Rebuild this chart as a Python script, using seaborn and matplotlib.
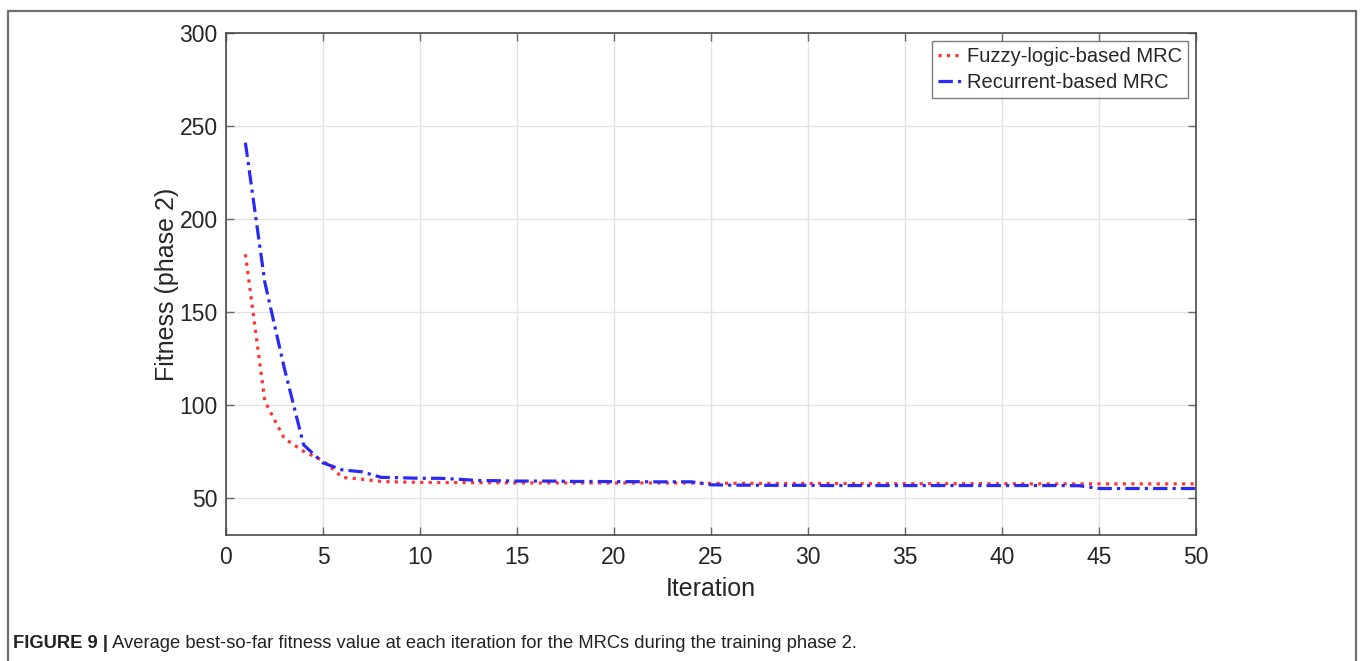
import matplotlib
matplotlib.use("Agg")
import matplotlib.pyplot as plt
import seaborn as sns
import pandas as pd
from matplotlib.lines import Line2D

iterations = list(range(1, 51))
fuzzy = [181, 102, 82, 75, 70, 61, 60, 58.8, 58.5, 58.3,
         58.2, 58.2, 58.1, 58.1, 58.0, 58.0, 58.0, 58.0, 58.0, 58.0,
         58.0, 58.0, 58.0, 58.0, 57.8, 57.8, 57.8, 57.7, 57.7, 57.7,
         57.7, 57.7, 57.6, 57.6, 57.6, 57.6, 57.6, 57.6, 57.6, 57.6,
         57.5, 57.5, 57.5, 57.5, 57.5, 57.5, 57.5, 57.5, 57.5, 57.5]
recurrent = [241, 166, 120, 78.5, 68.8, 65, 64, 61, 60.8, 60.5,
             60.5, 60.0, 59.3, 59.2, 59.0, 59.0, 59.0, 58.8, 58.8, 58.7,
             58.7, 58.6, 58.6, 58.6, 57.0, 56.8, 56.8, 56.7, 56.7, 56.7,
             56.6, 56.6, 56.6, 56.6, 56.6, 56.6, 56.6, 56.6, 56.6, 56.6,
             56.6, 56.6, 56.6, 56.5, 55.0, 55.0, 55.0, 55.0, 55.0, 55.0]
series_names = ["Fuzzy-logic-based MRC", "Recurrent-based MRC"]
x_ticks = [0, 5, 10, 15, 20, 25, 30, 35, 40, 45, 50]
y_ticks = [50, 100, 150, 200, 250, 300]
caption_bold = "FIGURE 9 |"
caption_rest = " Average best-so-far fitness value at each iteration for the MRCs during the training phase 2."

sns.set_theme(style="white")
plt.rcParams['font.family'] = ['Liberation Sans', 'DejaVu Sans']

df_f = pd.DataFrame({"Iteration": iterations, "Fitness": fuzzy})
df_r = pd.DataFrame({"Iteration": iterations, "Fitness": recurrent})

fig = plt.figure(figsize=(13.6, 6.61), dpi=100)
ax = fig.add_axes([226/1360, 1 - 535/661, 970/1360, 502/661])

sns.lineplot(data=df_f, x="Iteration", y="Fitness", ax=ax, color="#ff3535",
             linestyle=":", linewidth=2.3, label=series_names[0])
sns.lineplot(data=df_r, x="Iteration", y="Fitness", ax=ax, color="#2a2af5",
             linewidth=2.3, label=series_names[1], dashes=(4.5, 1.6, 1, 1.6))

ax.set_xlim(0, 50)
ax.set_ylim(30, 300)
ax.set_xticks(x_ticks)
ax.set_yticks(y_ticks)
ax.grid(True, color="#e3e3e3", linewidth=1)
ax.set_axisbelow(True)
for s in ax.spines.values():
    s.set_color("#4a4a4a")
    s.set_linewidth(1.2)
    s.set_visible(True)
ax.tick_params(axis="both", which="both", direction="in", length=6, width=1,
               color="#6a6a6a", labelsize=16.5, labelcolor="#262626",
               top=True, right=True, bottom=True, left=True)
ax.tick_params(axis="x", pad=8)
ax.tick_params(axis="y", pad=6)
ax.set_xlabel("Iteration", fontsize=18, color="#262626", labelpad=6)
ax.set_ylabel("Fitness (phase 2)", fontsize=18, color="#262626", labelpad=0)

leg = ax.legend(loc="upper right", fontsize=14.5, frameon=True, fancybox=False,
                handlelength=1.25, handletextpad=0.2, borderpad=0.3,
                labelspacing=0.35, borderaxespad=0.4)
leg.get_frame().set_edgecolor("#5a5a5a")
leg.get_frame().set_linewidth(1.0)
for t in leg.get_texts():
    t.set_color("#262626")

# figure border
W, H = 1360, 661
fig.add_artist(Line2D([8/W, 8/W], [0, 1 - 10.5/H], color="#6e6e6e", linewidth=1.6, transform=fig.transFigure))
fig.add_artist(Line2D([8/W, 1356/W], [1 - 10.5/H, 1 - 10.5/H], color="#6e6e6e", linewidth=1.6, transform=fig.transFigure))
fig.add_artist(Line2D([1356/W, 1356/W], [0, 1 - 10.5/H], color="#6e6e6e", linewidth=1.6, transform=fig.transFigure))

t1 = fig.text(13/W, 1 - 643/H, caption_bold, fontsize=13.2, fontweight="bold",
              color="#222222", va="center", ha="left")
fig.canvas.draw()
r = fig.canvas.get_renderer()
bb = t1.get_window_extent(renderer=r)
fig.text(bb.x1 / W, 1 - 643/H, caption_rest, fontsize=13.2, color="#222222",
         va="center", ha="left")

fig.savefig("out.png", dpi=100)
